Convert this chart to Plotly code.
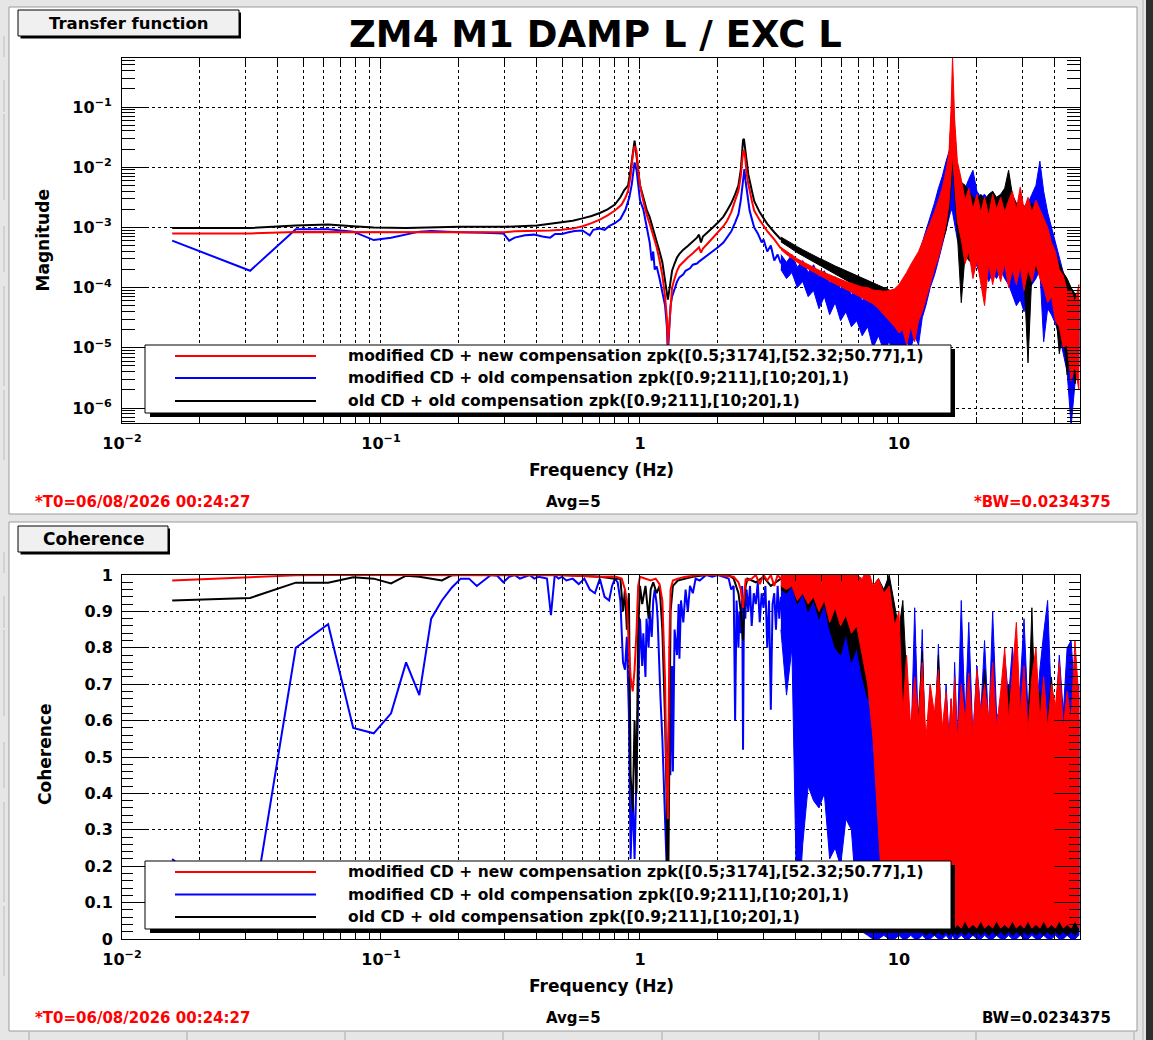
import plotly.graph_objects as go

W, H = 1153, 1040
RED, BLUE, BLACK = "#ff0000", "#0000ff", "#000000"
FONT = "DejaVu Sans"

# ---------------- tick labels / texts ----------------
x_tick_vals = [0.01, 0.1, 1, 10]
x_tick_text = ["10<sup>−2</sup>", "10<sup>−1</sup>", "1", "10"]
mag_tick_vals = [1e-6, 1e-5, 1e-4, 1e-3, 1e-2, 1e-1]
mag_tick_text = ["10<sup>−6</sup>", "10<sup>−5</sup>", "10<sup>−4</sup>",
                 "10<sup>−3</sup>", "10<sup>−2</sup>", "10<sup>−1</sup>"]
coh_tick_vals = [0, 0.1, 0.2, 0.3, 0.4, 0.5, 0.6, 0.7, 0.8, 0.9, 1.0]
coh_tick_text = ["0", "0.1", "0.2", "0.3", "0.4", "0.5", "0.6", "0.7", "0.8", "0.9", "1"]
legend_labels = [
    "modified CD + new compensation zpk([0.5;3174],[52.32;50.77],1)",
    "modified CD + old compensation zpk([0.9;211],[10;20],1)",
    "old CD + old compensation zpk([0.9;211],[10;20],1)",
]

# ---------------- magnitude: clean part (log10 of magnitude) ----------------
red_mag_f = [0.015625, 0.03125, 0.046875, 0.0625, 0.1, 0.2, 0.3, 0.33, 0.4, 0.45,
             0.5, 0.55, 0.6, 0.65, 0.7, 0.75, 0.8, 0.85, 0.88, 0.9,
             0.92, 0.9375, 0.953, 0.96875, 0.984, 1.0, 1.03, 1.06, 1.09, 1.125,
             1.16, 1.19, 1.22, 1.25, 1.27, 1.28125, 1.297, 1.3125, 1.33, 1.36,
             1.39, 1.42, 1.47, 1.53, 1.6, 1.66, 1.69, 1.72, 1.75, 1.84,
             1.91, 2.0, 2.1, 2.17, 2.25, 2.33, 2.4, 2.45, 2.48, 2.5,
             2.52, 2.55, 2.58, 2.62, 2.7, 2.76, 2.9, 3.1, 3.3, 3.5]
red_mag_log = [-3.10, -3.10, -3.075, -3.075, -3.08, -3.08, -3.08, -3.065, -3.06, -3.05,
               -3.04, -3.02, -2.98, -2.93, -2.87, -2.80, -2.72, -2.62, -2.50, -2.39,
               -2.15, -1.80, -1.65, -1.72, -2.05, -2.30, -2.56, -2.78, -2.94, -3.12,
               -3.33, -3.55, -3.80, -4.15, -4.50, -4.95, -4.60, -4.25, -4.00, -3.85,
               -3.72, -3.64, -3.57, -3.50, -3.43, -3.37, -3.33, -3.42, -3.35, -3.25,
               -3.17, -3.08, -2.98, -2.89, -2.75, -2.55, -2.39, -2.15, -1.89, -1.74,
               -1.72, -1.85, -2.10, -2.28, -2.55, -2.72, -2.88, -3.06, -3.20, -3.35]

blue_mag_f = [0.015625, 0.03125, 0.046875, 0.0625, 0.078125, 0.09375, 0.109375, 0.125, 0.140625, 0.15625,
              0.171875, 0.2, 0.25, 0.28125, 0.296875, 0.3125, 0.328125, 0.36, 0.39, 0.42,
              0.45, 0.47, 0.5, 0.53, 0.56, 0.6, 0.625, 0.64, 0.66, 0.7,
              0.73, 0.76, 0.8, 0.84, 0.88, 0.91, 0.93, 0.953, 0.97, 0.984,
              1.0, 1.03, 1.06, 1.09, 1.11, 1.125, 1.14, 1.16, 1.19, 1.22,
              1.25, 1.27, 1.28125, 1.297, 1.3125, 1.33, 1.36, 1.39, 1.42, 1.47,
              1.5, 1.56, 1.6, 1.66, 1.7, 1.8, 1.91, 2.0, 2.1, 2.17,
              2.25, 2.33, 2.4, 2.45, 2.5, 2.53, 2.56, 2.6, 2.65, 2.7,
              2.76, 2.85, 2.95, 3.0, 3.1, 3.2, 3.3, 3.4, 3.5]
blue_mag_log = [-3.22, -3.72, -3.03, -3.03, -3.07, -3.21, -3.17, -3.12, -3.07, -3.06,
                -3.07, -3.08, -3.09, -3.09, -3.10, -3.22, -3.17, -3.13, -3.12, -3.15,
                -3.17, -3.11, -3.11, -3.08, -3.06, -3.05, -3.10, -3.13, -3.04, -3.02,
                -3.04, -2.98, -2.93, -2.86, -2.70, -2.50, -2.28, -1.92, -2.05, -2.35,
                -2.55, -2.70, -2.95, -3.25, -3.55, -3.40, -3.70, -3.65, -3.85, -4.05,
                -4.30, -4.65, -5.10, -4.70, -4.30, -4.15, -4.00, -3.90, -3.83, -3.78,
                -3.72, -3.68, -3.62, -3.60, -3.56, -3.48, -3.40, -3.33, -3.25, -3.17,
                -3.07, -2.92, -2.78, -2.55, -2.20, -2.03, -2.25, -2.50, -2.72, -2.85,
                -3.00, -3.10, -3.25, -3.20, -3.40, -3.30, -3.55, -3.45, -3.60]

black_mag_f = [0.015625, 0.03125, 0.046875, 0.0625, 0.078125, 0.09375, 0.125, 0.2, 0.3, 0.35,
               0.4, 0.45, 0.5, 0.55, 0.6, 0.65, 0.7, 0.75, 0.8, 0.84,
               0.87, 0.9, 0.92, 0.9375, 0.953, 0.96875, 0.984, 1.0, 1.03, 1.06,
               1.09, 1.125, 1.16, 1.19, 1.22, 1.25, 1.27, 1.28125, 1.297, 1.3125,
               1.33, 1.36, 1.39, 1.42, 1.47, 1.53, 1.6, 1.66, 1.69, 1.72,
               1.75, 1.84, 1.91, 2.0, 2.1, 2.17, 2.25, 2.33, 2.4, 2.45,
               2.48, 2.5, 2.52, 2.55, 2.58, 2.62, 2.7, 2.76, 2.9, 3.1,
               3.3, 3.5]
black_mag_log = [-3.01, -3.01, -2.97, -2.95, -2.98, -3.00, -3.01, -2.99, -2.99, -2.985,
                 -2.97, -2.94, -2.92, -2.89, -2.85, -2.81, -2.76, -2.70, -2.62, -2.50,
                 -2.38, -2.30, -2.05, -1.75, -1.56, -1.80, -2.10, -2.30, -2.50, -2.70,
                 -2.83, -3.02, -3.22, -3.40, -3.58, -3.85, -4.05, -4.20, -4.05, -3.85,
                 -3.72, -3.60, -3.50, -3.44, -3.37, -3.31, -3.24, -3.17, -3.12, -3.25,
                 -3.15, -3.07, -3.00, -2.92, -2.82, -2.72, -2.60, -2.45, -2.30, -2.05,
                 -1.75, -1.55, -1.53, -1.70, -1.95, -2.12, -2.38, -2.56, -2.75, -2.94,
                 -3.08, -3.20]

# ---------------- noisy part: envelopes on a common frequency list ----------------
f_noise = [3.5, 3.68, 3.86, 4.05, 4.25, 4.46, 4.68, 4.91, 5.15, 5.4,
           5.67, 5.95, 6.24, 6.55, 6.87, 7.21, 7.57, 7.94, 8.33, 8.74,
           9.17, 9.62, 10.0, 10.35, 10.7, 11.1, 11.5, 11.9, 12.3, 12.7,
           13.2, 13.7, 14.2, 14.7, 15.2, 15.6, 15.9, 16.1, 16.4, 16.8,
           17.4, 18.0, 18.6, 19.3, 20.0, 20.7, 21.4, 22.2, 23.0, 23.8,
           24.7, 25.6, 26.5, 27.4, 28.4, 29.4, 30.4, 31.5, 32.6, 33.8,
           35.0, 36.2, 37.5, 38.8, 40.2, 41.6, 43.1, 44.6, 46.2, 47.8,
           49.5]

red_mag_up = [-3.33, -3.40, -3.46, -3.52, -3.57, -3.62, -3.67, -3.71, -3.75, -3.79,
              -3.82, -3.86, -3.90, -3.93, -3.96, -3.99, -4.00, -4.04, -4.05, -4.06,
              -4.05, -4.02, -3.95, -3.85, -3.75, -3.62, -3.50, -3.40, -3.25, -3.10,
              -2.95, -2.75, -2.55, -2.35, -2.05, -1.75, -1.00, -0.15, -1.20, -1.90,
              -2.20, -2.55, -2.35, -2.70, -2.45, -2.75, -2.50, -2.80, -2.45, -2.70,
              -2.50, -2.75, -2.55, -2.40, -2.70, -2.33, -2.70, -2.50, -2.75, -2.55,
              -2.70, -2.85, -3.00, -3.25, -3.40, -3.70, -3.80, -4.05, -4.05, -4.25,
              -3.95]
red_mag_lo = [-3.37, -3.45, -3.52, -3.58, -3.64, -3.70, -3.75, -3.80, -3.85, -3.89,
              -3.94, -3.98, -4.02, -4.07, -4.12, -4.17, -4.22, -4.27, -4.35, -4.45,
              -4.55, -4.65, -4.75, -4.70, -4.95, -4.65, -4.90, -4.55, -4.40, -4.20,
              -3.95, -3.70, -3.50, -3.25, -2.95, -2.60, -2.10, -1.80, -2.30, -2.90,
              -3.20, -3.60, -3.40, -3.85, -3.55, -3.90, -4.30, -3.60, -3.95, -3.65,
              -3.90, -3.60, -4.00, -3.70, -3.95, -3.65, -4.05, -3.70, -3.90, -3.60,
              -3.85, -4.00, -4.25, -4.15, -4.55, -4.65, -5.00, -4.95, -5.55, -5.30,
              -5.70]

blue_mag_up = [-3.45, -3.58, -3.45, -3.66, -3.55, -3.75, -3.62, -3.82, -3.72, -3.92,
               -3.82, -4.02, -3.92, -4.12, -4.00, -4.22, -4.08, -4.28, -4.15, -4.35,
               -4.22, -4.32, -4.20, -4.05, -3.95, -3.80, -3.60, -3.45, -3.25, -3.05,
               -2.85, -2.60, -2.35, -2.15, -1.90, -1.75, -1.65, -1.55, -1.75, -2.00,
               -2.25, -2.35, -2.20, -2.05, -2.40, -2.50, -2.45, -2.55, -2.40, -2.55,
               -2.45, -2.60, -2.50, -2.65, -2.60, -2.70, -2.65, -2.60, -2.45, -2.30,
               -1.90, -2.40, -2.75, -3.00, -3.25, -3.50, -3.75, -3.90, -4.05, -4.15,
               -4.20]
blue_mag_lo = [-3.70, -3.85, -3.75, -4.00, -3.90, -4.15, -4.05, -4.35, -4.15, -4.45,
               -4.25, -4.55, -4.40, -4.65, -4.55, -4.80, -4.65, -5.00, -4.80, -5.05,
               -4.90, -5.15, -5.00, -5.10, -4.90, -5.00, -4.80, -4.95, -4.50, -4.30,
               -4.00, -3.80, -3.55, -3.30, -3.05, -2.85, -2.70, -2.75, -2.90, -3.20,
               -3.40, -3.50, -3.45, -3.55, -3.65, -3.80, -3.70, -3.90, -3.75, -3.85,
               -3.70, -3.85, -3.95, -4.10, -4.30, -4.20, -4.40, -4.05, -3.95, -3.85,
               -3.70, -4.90, -4.35, -4.45, -4.60, -4.80, -5.10, -5.40, -6.30, -5.60,
               -5.30]

black_mag_up = [-3.16, -3.22, -3.27, -3.32, -3.37, -3.42, -3.47, -3.51, -3.55, -3.60,
                -3.64, -3.68, -3.72, -3.76, -3.80, -3.84, -3.88, -3.92, -3.96, -4.00,
                -4.04, -4.08, -4.05, -3.95, -3.85, -3.70, -3.60, -3.45, -3.35, -3.20,
                -3.05, -2.85, -2.65, -2.45, -2.20, -1.85, -1.20, -0.72, -1.35, -2.05,
                -2.25, -2.30, -2.40, -2.50, -2.55, -2.45, -2.55, -2.45, -2.40, -2.50,
                -2.45, -2.35, -2.05, -2.45, -2.60, -2.55, -2.65, -2.70, -2.60, -2.70,
                -2.75, -2.90, -3.05, -3.25, -3.45, -3.60, -3.75, -3.85, -4.00, -4.10,
                -4.20]
black_mag_lo = [-3.24, -3.30, -3.36, -3.42, -3.47, -3.52, -3.58, -3.63, -3.68, -3.73,
                -3.78, -3.83, -3.88, -3.93, -3.98, -4.03, -4.08, -4.13, -4.18, -4.23,
                -4.28, -4.35, -4.40, -4.45, -4.40, -4.35, -4.25, -4.15, -4.05, -3.90,
                -3.75, -3.60, -3.45, -3.25, -3.05, -2.75, -2.30, -1.90, -2.40, -3.10,
                -4.25, -3.45, -3.55, -3.60, -3.60, -3.55, -3.65, -3.55, -3.60, -3.55,
                -3.70, -3.60, -3.50, -3.55, -3.65, -3.70, -3.80, -5.25, -3.75, -3.70,
                -3.80, -3.85, -4.00, -4.15, -4.35, -5.10, -4.70, -5.45, -5.00, -5.60,
                -5.00]

# ---------------- coherence: clean part ----------------
red_coh_f = [0.015625, 0.03125, 0.046875, 0.0625, 0.2, 0.4, 0.5, 0.6, 0.7, 0.8,
             0.85, 0.875, 0.89, 0.906, 0.92, 0.9375, 0.953, 0.969, 0.984, 1.0,
             1.05, 1.1, 1.15, 1.19, 1.22, 1.25, 1.266, 1.28125, 1.297, 1.3125,
             1.34, 1.4, 1.5, 1.7, 2.0, 2.3, 2.4, 2.45, 2.5, 2.53,
             2.56, 2.6, 2.7, 2.8, 2.9, 3.0, 3.1, 3.2, 3.3, 3.4,
             3.5]
red_coh = [0.985, 0.995, 0.999, 1.0, 1.0, 1.0, 0.999, 0.997, 0.995, 0.996,
           0.99, 0.96, 0.925, 0.80, 0.72, 0.68, 0.74, 0.84, 0.97, 0.995,
           0.99, 0.985, 0.99, 0.975, 0.93, 0.71, 0.45, 0.33, 0.79, 0.96,
           0.985, 0.99, 0.995, 1.0, 1.0, 0.995, 0.98, 0.96, 0.91, 0.95,
           0.99, 0.985, 0.99, 1.0, 0.975, 1.0, 0.985, 1.0, 0.97, 1.0,
           0.99]

blue_coh_f = [0.015625, 0.03125, 0.046875, 0.0625, 0.078125, 0.09375, 0.109375, 0.125, 0.140625, 0.15625,
              0.171875, 0.1875, 0.203125, 0.21875, 0.234375, 0.25, 0.265625, 0.28125, 0.296875, 0.3125,
              0.328125, 0.34375, 0.359375, 0.375, 0.390625, 0.40625, 0.4375, 0.453125, 0.46875, 0.484375,
              0.5, 0.52, 0.55, 0.58, 0.61, 0.64, 0.67, 0.7, 0.73, 0.76,
              0.78, 0.8, 0.82, 0.84, 0.86, 0.875, 0.89, 0.906, 0.92, 0.9375,
              0.953, 0.969, 0.984, 1.0, 1.02, 1.03, 1.05, 1.06, 1.08, 1.09,
              1.11, 1.125, 1.14, 1.16, 1.17, 1.19, 1.2, 1.22, 1.25, 1.266,
              1.28, 1.297, 1.31, 1.33, 1.34, 1.36, 1.39, 1.41, 1.42, 1.44,
              1.47, 1.5, 1.53, 1.56, 1.6, 1.64, 1.7, 1.8, 1.9, 2.0,
              2.1, 2.2, 2.25, 2.3, 2.33, 2.36, 2.4, 2.42, 2.45, 2.48,
              2.5, 2.52, 2.55, 2.58, 2.62, 2.66, 2.7, 2.75, 2.8, 2.85,
              2.9, 2.95, 3.0, 3.05, 3.1, 3.15, 3.2, 3.25, 3.3, 3.35,
              3.4, 3.45, 3.5]
blue_coh = [0.22, 0.03, 0.80, 0.865, 0.58, 0.565, 0.62, 0.76, 0.67, 0.88,
            0.93, 0.965, 0.99, 0.99, 0.97, 0.985, 1.0, 0.998, 0.98, 0.995,
            1.0, 0.99, 0.995, 1.0, 0.99, 0.995, 0.99, 0.89, 1.0, 0.99,
            0.995, 0.985, 0.99, 0.975, 0.99, 0.96, 0.95, 0.99, 0.94, 0.93,
            0.97, 0.99, 0.98, 0.93, 0.76, 0.74, 0.83, 0.62, 0.22, 0.40,
            0.22, 0.45, 0.72, 0.88, 0.75, 0.84, 0.72, 0.88, 0.80, 0.90,
            0.83, 0.93, 0.96, 0.92, 0.88, 0.72, 0.66, 0.55, 0.30, 0.21,
            0.50, 0.62, 0.45, 0.75, 0.46, 0.85, 0.78, 0.92, 0.77, 0.93,
            0.87, 0.96, 0.90, 0.97, 0.95, 0.99, 0.985, 1.0, 0.995, 1.0,
            0.995, 0.99, 0.96, 0.97, 0.60, 0.93, 0.80, 0.90, 0.84, 0.97,
            0.52, 0.93, 0.88, 0.96, 0.90, 0.97, 0.86, 0.95, 0.92, 0.98,
            0.87, 0.95, 0.91, 0.97, 0.80, 0.93, 0.63, 0.92, 0.95, 0.85,
            0.97, 0.88, 0.94]

black_coh_f = [0.015625, 0.03125, 0.046875, 0.0625, 0.078125, 0.09375, 0.109375, 0.125, 0.140625, 0.15625,
               0.171875, 0.1875, 0.2, 0.5, 0.6, 0.7, 0.8, 0.84, 0.86, 0.875,
               0.89, 0.906, 0.92, 0.9375, 0.953, 0.969, 0.984, 1.0, 1.02, 1.05,
               1.08, 1.1, 1.125, 1.16, 1.19, 1.22, 1.25, 1.266, 1.28125, 1.297,
               1.3125, 1.34, 1.4, 1.5, 1.6, 1.8, 2.2, 2.3, 2.4, 2.45,
               2.5, 2.53, 2.56, 2.6, 2.8, 3.0, 3.2, 3.5]
black_coh = [0.93, 0.937, 0.979, 0.979, 0.994, 0.99, 0.977, 0.998, 0.995, 0.99,
             0.985, 0.999, 1.0, 1.0, 0.998, 0.995, 0.99, 0.99, 0.90, 0.96,
             0.85, 0.95, 0.45, 0.35, 0.60, 0.40, 0.85, 0.97, 0.92, 0.97,
             0.88, 0.96, 0.98, 0.95, 0.97, 0.85, 0.60, 0.40, 0.02, 0.55,
             0.90, 0.97, 0.985, 0.99, 0.995, 1.0, 1.0, 0.99, 0.95, 0.90,
             0.82, 0.93, 0.97, 0.99, 0.98, 0.995, 0.97, 0.99]

red_coh_up = [1.00, 1.01, 1.00, 1.02, 1.01, 1.02, 1.00, 1.02, 1.01, 1.02,
              1.00, 1.02, 1.01, 1.02, 1.00, 0.99, 1.02, 0.97, 0.99, 0.95,
              0.97, 0.86, 0.90, 0.62, 0.78, 0.58, 0.72, 0.60, 0.76, 0.55,
              0.70, 0.62, 0.74, 0.58, 0.68, 0.55, 0.66, 0.60, 0.72, 0.55,
              0.70, 0.60, 0.73, 0.56, 0.74, 0.62, 0.70, 0.60, 0.76, 0.58,
              0.68, 0.80, 0.60, 0.72, 0.87, 0.62, 0.75, 0.57, 0.72, 0.80,
              0.60, 0.72, 0.58, 0.70, 0.64, 0.76, 0.58, 0.68, 0.60, 0.82,
              0.66]
red_coh_lo = [0.97, 0.96, 0.97, 0.93, 0.95, 0.92, 0.94, 0.90, 0.93, 0.87,
              0.91, 0.86, 0.89, 0.84, 0.86, 0.78, 0.70, 0.55, 0.30, 0.05,
              0.03, 0.03, 0.03, 0.04, 0.03, 0.05, 0.03, 0.04, 0.03, 0.05,
              0.03, 0.04, 0.03, 0.05, 0.03, 0.04, 0.03, 0.05, 0.03, 0.04,
              0.03, 0.05, 0.03, 0.04, 0.03, 0.05, 0.03, 0.04, 0.03, 0.05,
              0.03, 0.04, 0.03, 0.05, 0.03, 0.04, 0.03, 0.05, 0.03, 0.04,
              0.03, 0.05, 0.03, 0.04, 0.03, 0.05, 0.03, 0.04, 0.03, 0.05,
              0.03]

blue_coh_up = [0.97, 0.95, 0.98, 0.97, 0.99, 0.96, 0.98, 0.99, 0.97, 0.99,
               0.98, 0.96, 0.97, 0.95, 0.93, 0.90, 0.92, 0.88, 0.85, 0.80,
               0.93, 0.60, 0.45, 0.55, 0.40, 0.50, 0.91, 0.55, 0.85, 0.45,
               0.70, 0.50, 0.81, 0.45, 0.70, 0.55, 0.66, 0.50, 0.76, 0.55,
               0.93, 0.60, 0.87, 0.55, 0.75, 0.62, 0.82, 0.58, 0.90, 0.62,
               0.60, 0.78, 0.66, 0.80, 0.60, 0.70, 0.88, 0.62, 0.78, 0.60,
               0.74, 0.84, 0.93, 0.64, 0.60, 0.78, 0.62, 0.80, 0.82, 0.66,
               0.70]
blue_coh_lo = [0.85, 0.67, 0.80, 0.02, 0.26, 0.42, 0.38, 0.36, 0.40, 0.22,
               0.25, 0.20, 0.33, 0.30, 0.10, 0.02, 0.01, 0.00, 0.00, 0.01,
               0.00, 0.00, 0.01, 0.00, 0.00, 0.01, 0.00, 0.00, 0.01, 0.00,
               0.00, 0.01, 0.00, 0.00, 0.01, 0.00, 0.00, 0.01, 0.00, 0.00,
               0.01, 0.00, 0.00, 0.01, 0.00, 0.00, 0.01, 0.00, 0.00, 0.01,
               0.00, 0.00, 0.01, 0.00, 0.00, 0.01, 0.00, 0.00, 0.01, 0.00,
               0.00, 0.01, 0.00, 0.00, 0.01, 0.00, 0.00, 0.01, 0.00, 0.00,
               0.01]

black_coh_up = [1.00, 0.99, 1.00, 0.99, 1.00, 0.99, 1.00, 0.99, 1.00, 0.99,
                1.00, 0.98, 1.00, 0.99, 1.00, 0.98, 0.99, 0.97, 0.99, 0.96,
                1.00, 0.92, 0.85, 0.93, 0.72, 0.55, 0.48, 0.62, 0.79, 0.50,
                0.66, 0.55, 0.78, 0.52, 0.60, 0.50, 0.64, 0.55, 0.62, 0.50,
                0.64, 0.55, 0.70, 0.52, 0.66, 0.58, 0.74, 0.55, 0.62, 0.50,
                0.66, 0.58, 0.70, 0.55, 0.62, 0.50, 0.66, 0.58, 0.91, 0.55,
                0.68, 0.52, 0.60, 0.72, 0.55, 0.66, 0.52, 0.64, 0.55, 0.70,
                0.60]
black_coh_lo = [0.96, 0.95, 0.97, 0.92, 0.95, 0.90, 0.93, 0.88, 0.92, 0.85,
                0.80, 0.78, 0.84, 0.76, 0.80, 0.72, 0.66, 0.70, 0.55, 0.60,
                0.45, 0.50, 0.30, 0.20, 0.10, 0.05, 0.02, 0.02, 0.02, 0.01,
                0.02, 0.01, 0.02, 0.01, 0.02, 0.01, 0.02, 0.01, 0.02, 0.01,
                0.02, 0.01, 0.02, 0.01, 0.02, 0.01, 0.02, 0.01, 0.02, 0.01,
                0.02, 0.01, 0.02, 0.01, 0.02, 0.01, 0.02, 0.01, 0.02, 0.01,
                0.02, 0.01, 0.02, 0.01, 0.02, 0.01, 0.02, 0.01, 0.02, 0.01,
                0.02]

# ---------------- consistency checks ----------------
for a, b in [(red_mag_f, red_mag_log), (blue_mag_f, blue_mag_log), (black_mag_f, black_mag_log),
             (red_coh_f, red_coh), (blue_coh_f, blue_coh), (black_coh_f, black_coh)]:
    assert len(a) == len(b), (len(a), len(b))
for arr in [red_mag_up, red_mag_lo, blue_mag_up, blue_mag_lo, black_mag_up, black_mag_lo,
            red_coh_up, red_coh_lo, blue_coh_up, blue_coh_lo, black_coh_up, black_coh_lo]:
    assert len(arr) == len(f_noise), len(arr)


def X(px):
    return px / W


def Y(py):
    return 1 - py / H


def from_log(v):
    return [10 ** x for x in v]


def line(f, v, color, xa, ya):
    return go.Scatter(x=f, y=v, mode="lines", line=dict(color=color, width=2),
                      xaxis=xa, yaxis=ya, showlegend=False, hoverinfo="skip")


def band(f, up, lo, color, xa, ya):
    xs = list(f) + list(f)[::-1]
    ys = list(up) + list(lo)[::-1]
    return go.Scatter(x=xs, y=ys, mode="lines", fill="toself", fillcolor=color,
                      line=dict(color=color, width=1), xaxis=xa, yaxis=ya,
                      showlegend=False, hoverinfo="skip")


fig = go.Figure()
# drawing order: blue, black, red
mag_sets = [
    (blue_mag_f, blue_mag_log, blue_mag_up, blue_mag_lo, BLUE),
    (black_mag_f, black_mag_log, black_mag_up, black_mag_lo, BLACK),
    (red_mag_f, red_mag_log, red_mag_up, red_mag_lo, RED),
]
for f, v, up, lo, c in mag_sets:
    fig.add_trace(line(f, from_log(v), c, "x", "y"))
    fig.add_trace(band(f_noise, from_log(up), from_log(lo), c, "x", "y"))

coh_sets = [
    (blue_coh_f, blue_coh, blue_coh_up, blue_coh_lo, BLUE),
    (black_coh_f, black_coh, black_coh_up, black_coh_lo, BLACK),
    (red_coh_f, red_coh, red_coh_up, red_coh_lo, RED),
]
for f, v, up, lo, c in coh_sets:
    fig.add_trace(line(f, v, c, "x2", "y2"))
    fig.add_trace(band(f_noise, up, lo, c, "x2", "y2"))

tickfont = dict(family=FONT, size=16, color="black", weight="bold")
x_minor = [m * 10 ** e for e in range(-2, 2) for m in range(2, 10)]
mag_minor = [m * 10 ** e for e in range(-7, 0) for m in range(2, 10)]
grid = dict(showgrid=True, gridcolor="black", gridwidth=1, griddash="dot")


def xaxis(anchor):
    return dict(type="log", range=[-2, 1.69897], domain=[X(122), X(1080)], anchor=anchor,
                tickmode="array", tickvals=x_tick_vals, ticktext=x_tick_text,
                ticks="inside", ticklen=11, tickwidth=1, tickcolor="black",
                showline=True, linecolor="black", linewidth=1, mirror="allticks",
                zeroline=False, tickfont=tickfont, ticklabelstandoff=6, automargin=False,
                minor=dict(tickmode="array", tickvals=x_minor, ticks="inside", ticklen=6,
                           tickcolor="black", **grid),
                **grid)


fig.update_layout(
    template="none",
    width=W, height=H, autosize=False,
    margin=dict(l=0, r=0, t=0, b=0, pad=0, autoexpand=False),
    paper_bgcolor="#e6e6e6", plot_bgcolor="white",
    showlegend=False,
    xaxis=xaxis("y"),
    xaxis2=xaxis("y2"),
    yaxis=dict(type="log", range=[-6.249, -0.186], domain=[Y(423), Y(58)], anchor="x",
               tickmode="array", tickvals=mag_tick_vals, ticktext=mag_tick_text,
               ticks="inside", ticklen=26, tickwidth=1, tickcolor="black",
               showline=True, linecolor="black", linewidth=1, mirror="allticks",
               zeroline=False, tickfont=tickfont, ticklabelstandoff=6, automargin=False,
               minor=dict(tickmode="array", tickvals=mag_minor, ticks="inside", ticklen=13,
                          tickcolor="black", showgrid=False),
               **grid),
    yaxis2=dict(range=[0, 1], domain=[Y(939), Y(575)], anchor="x2",
                tickmode="array", tickvals=coh_tick_vals, ticktext=coh_tick_text,
                ticks="inside", ticklen=26, tickwidth=1, tickcolor="black",
                showline=True, linecolor="black", linewidth=1, mirror="allticks",
                zeroline=False, tickfont=tickfont, ticklabelstandoff=5, automargin=False,
                minor=dict(tickmode="linear", tick0=0, dtick=0.02, ticks="inside", ticklen=11,
                           tickcolor="black", showgrid=False),
                **grid),
)

shapes = []


def rect(x0, y0, x1, y1, fill, line_color=None, lw=1, layer="above"):
    shapes.append(dict(type="rect", xref="paper", yref="paper",
                       x0=X(x0), x1=X(x1), y0=Y(y1), y1=Y(y0),
                       fillcolor=fill, layer=layer,
                       line=dict(color=line_color or fill, width=lw if line_color else 0)))


def seg(x0, y0, x1, y1, color, lw=1, layer="above"):
    shapes.append(dict(type="line", xref="paper", yref="paper",
                       x0=X(x0), x1=X(x1), y0=Y(y0), y1=Y(y1), layer=layer,
                       line=dict(color=color, width=lw)))


# window furniture and pads
rect(1146, 0, 1153, 1040, "#2e2e2e", layer="below")
seg(1143, 0, 1143, 1040, "#b4b4b4", 1, layer="below")
rect(9, 7, 1137, 514, "white", "#9a9a9a", 1, layer="below")
rect(9, 522, 1137, 1031, "white", "#9a9a9a", 1, layer="below")
for tx in [29, 187, 345, 503, 662, 819, 976, 1134]:
    seg(tx, 1032, tx, 1040, "#a8a8a8", 1, layer="below")
for y0, y1 in [(36, 57), (80, 112), (114, 200), (226, 272), (286, 386), (390, 460),
               (552, 573), (596, 628), (630, 716), (742, 788), (802, 902), (906, 976)]:
    seg(4, y0, 4, y1, "#bdbdbd", 1, layer="below")

# title boxes
rect(20.5, 12.5, 241, 38.5, "black")
rect(18, 10, 239, 36, "#f0f0f0", "black", 1)
rect(20.5, 528.5, 170, 554.5, "black")
rect(18, 526, 168, 552, "#f0f0f0", "black", 1)

# legends
legend_colors = [RED, BLUE, BLACK]
for top, rows in [(345, [356, 378, 401]), (861, [872, 894.5, 917])]:
    rect(150, top + 4, 955, top + 72, "black")
    rect(145, top, 951, top + 68, "white", "black", 1)
    for yy, c in zip(rows, legend_colors):
        seg(175, yy, 316, yy, c, 2)

fig.update_layout(shapes=shapes)

ann = []


def text(s, x, y, size, color="black", xanchor="center", angle=0):
    ann.append(dict(text=s, x=X(x), y=Y(y), xref="paper", yref="paper", showarrow=False,
                    xanchor=xanchor, yanchor="middle", textangle=angle,
                    font=dict(family=FONT, size=size, color=color, weight="bold")))


text("ZM4 M1 DAMP L / EXC L", 595, 35, 37)
text("Transfer function", 129, 23.5, 16.5)
text("Coherence", 93, 539, 17)
text("Magnitude", 43, 240.5, 17, angle=-90)
text("Coherence", 45, 755, 17, angle=-90)
text("Frequency (Hz)", 601, 470, 17)
text("Frequency (Hz)", 601, 986, 17)
for yy, bw, bwc in [(502.5, "*BW=0.0234375", RED), (1018, "BW=0.0234375", BLACK)]:
    text("*T0=06/08/2026 00:24:27", 33, yy, 15, RED, xanchor="left")
    text("Avg=5", 573.5, yy, 15)
    text(bw, 1113, yy, 15, bwc, xanchor="right")
for top, rows in [(345, [356, 378, 401]), (861, [872, 894.5, 917])]:
    for yy, s in zip(rows, legend_labels):
        text(s, 346, yy, 15.5, xanchor="left")

fig.update_layout(annotations=ann)
fig.write_html(
    "out.html",
    config={"displayModeBar": False, "staticPlot": True},
    post_script="document.body.style.margin='0';document.body.style.background='#e6e6e6';"
                "document.body.style.overflow='hidden';",
)
